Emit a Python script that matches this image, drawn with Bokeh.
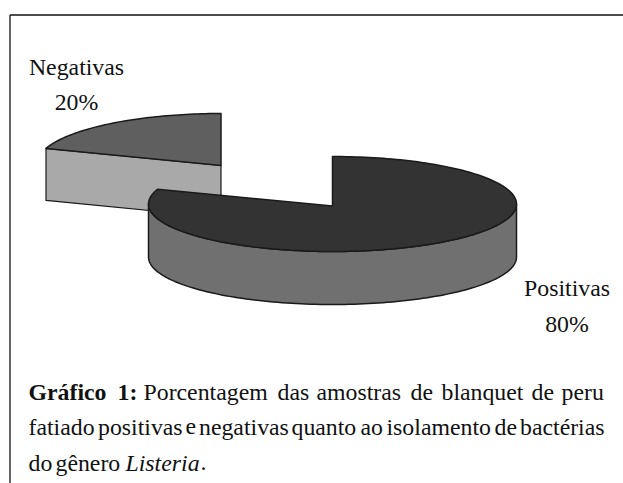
import numpy as np
from bokeh.plotting import figure
from bokeh.models import Range1d
from bokeh.core.properties import value
from bokeh.embed import file_html
from bokeh.resources import INLINE

categories = ["Negativas", "Positivas"]
values = [20, 80]
pct_labels = ["20%", "80%"]
caption_bold = ["Gráfico", "1:"]
caption_line1 = ["Porcentagem", "das", "amostras", "de", "blanquet", "de", "peru"]
caption_line2 = ["fatiado", "positivas", "e", "negativas", "quanto", "ao", "isolamento", "de", "bactérias"]
caption_line3 = ["do", "gênero"]
caption_italic = ["Listeria"]
caption_end = ["."]

W, H = 623, 483
p = figure(width=W, height=H, x_range=Range1d(0, 623), y_range=Range1d(483, 0),
           toolbar_location=None, output_backend="svg", min_border=0,
           background_fill_color="white")
p.axis.visible = False
p.grid.visible = False
p.outline_line_color = None

FONT = value("Liberation Serif")
EDGE = "#1a1a1a"
TXT = "#111111"
SIZE = "23.8px"

p.line([9.5, 9.5], [483, 14.5], line_color="#111111", line_width=1.3)
p.line([9.5, 623], [14.5, 14.5], line_color="#111111", line_width=1.3)

frac = np.array(values) / sum(values)
sweep = 2 * np.pi * frac[1]


def ell(cx, cy, rx, ry, a):
    return cx + rx * np.sin(a), cy - ry * np.cos(a)


cx, cy, rx, ry, ax, ay, d = 220.5, 163.5, 175 / np.sin(2 * np.pi * frac[0]), 50.5, 220.5, 165, 52
a = np.linspace(sweep, 2 * np.pi, 60)
ex, ey = ell(cx, cy, rx, ry, a)
p.patch([ex[0], ax, ax, ex[0]], [ey[0], ay, ay + d, ey[0] + d],
        fill_color="#a9a9a9", line_color=EDGE, line_width=1.2, line_join="round")
p.patch(list(ex) + [ax], list(ey) + [ay], fill_color="#5f5f5f", line_color=EDGE, line_width=1.5, line_join="round")

cx, cy, rx, ry, ax, ay, d = 332, 203.5, 184, 47.5, 332, 205.6, 53
a = np.linspace(0, sweep, 200)
ex, ey = ell(cx, cy, rx, ry, a)
b = np.linspace(np.pi / 2, 3 * np.pi / 2, 120)
fx, fy = ell(cx, cy, rx, ry, b)
p.patch(list(fx) + list(fx[::-1]), list(fy) + list(fy[::-1] + d),
        fill_color="#707070", line_color=EDGE, line_width=1.5, line_join="round")
p.patch(list(ex) + [ax], list(ey) + [ay], fill_color="#333333", line_color=EDGE, line_width=1.5, line_join="round")

p.text([76, 566.5], [66, 287], text=categories, text_font=FONT, text_font_size=SIZE,
       text_align="center", text_baseline="alphabetic", text_color=TXT)
p.text([76, 566.5], [101, 323], text=pct_labels, text_font=FONT, text_font_size=SIZE,
       text_align="center", text_baseline="alphabetic", text_color=TXT)


def words(items, xs, y, style="normal"):
    p.text(xs, [y] * len(items), text=items, text_font=FONT, text_font_size=SIZE,
           text_font_style=style, text_baseline="alphabetic", text_color=TXT)


words(caption_bold, [28, 117], 391, "bold")
words(caption_line1, [143, 277, 316, 410, 441, 531, 561], 391)
words(caption_line2, [28, 97.5, 185, 198.5, 291, 360, 386, 494, 519.5], 426)
words(caption_line3, [28, 55], 462)
words(caption_italic, [125], 462, "italic")
words(caption_end, [200], 462)

open("out.html", "w").write(file_html(p, INLINE))
